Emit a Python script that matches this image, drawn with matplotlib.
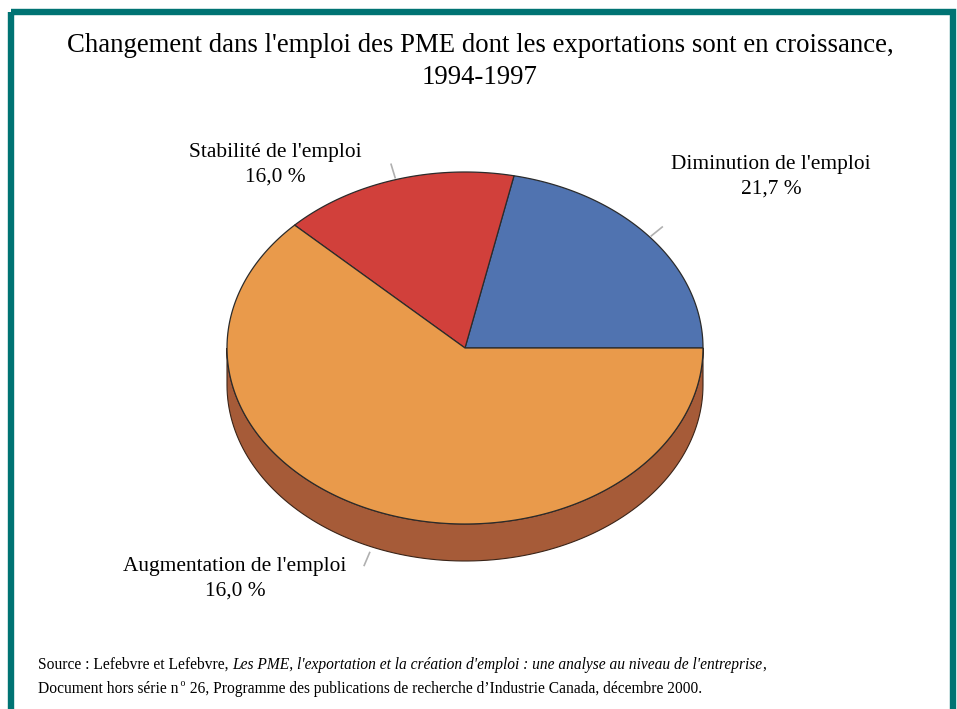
import numpy as np
import matplotlib.pyplot as plt
from matplotlib.patches import Polygon, Rectangle

plt.rcParams["font.family"] = ["Liberation Serif", "DejaVu Serif"]

# données
labels = ["Diminution de l'emploi", "Stabilité de l'emploi", "Augmentation de l'emploi"]
values = [21.7, 16.0, 62.3]
label_pct = ["21,7 %", "16,0 %", "16,0 %"]  # texte tel qu'affiché dans l'original

COR_BORDA = "#007373"
cores = ["#5073B0", "#D1403B", "#E99A4B"]
cores_lado = ["#3A5590", "#9E3430", "#A65B38"]

W, H = 957, 709
fig = plt.figure(figsize=(W / 100, H / 100), dpi=100)
ax = fig.add_axes([0, 0, 1, 1])
ax.set_xlim(0, W)
ax.set_ylim(H, 0)
ax.axis("off")
renderer = fig.canvas.get_renderer()

# cadre
ax.add_patch(Rectangle((11, 12), 942, 720, fill=False,
                       edgecolor=COR_BORDA, linewidth=4.6))

ax.text(480, 46, "Changement dans l'emploi des PME dont les exportations sont en croissance,",
        ha="center", va="center", fontsize=19.3)
ax.text(480, 78, "1994-1997", ha="center", va="center", fontsize=19.3)

# géométrie du camembert 3D
cx, cy = 465, 348
rx, ry = 238, 176
prof = 37

fracs = np.array(values) / np.sum(values)
bornes = np.concatenate([[0], np.cumsum(fracs)]) * 360


def pt(a):
    t = np.radians(a)
    return cx + rx * np.cos(t), cy - ry * np.sin(t)


# côtés (partie visible : 180° à 360°)
for i in range(len(values)):
    a0, a1 = max(bornes[i], 180), min(bornes[i + 1], 360)
    if a1 <= a0:
        continue
    ang = np.linspace(a0, a1, 120)
    haut = [pt(a) for a in ang]
    bas = [(x, y + prof) for x, y in haut[::-1]]
    ax.add_patch(Polygon(haut + bas, closed=True, facecolor=cores_lado[i],
                         edgecolor="#3a2418", linewidth=0.8))

# face du dessus
for i in range(len(values)):
    ang = np.linspace(bornes[i], bornes[i + 1], 200)
    pts = [(cx, cy)] + [pt(a) for a in ang]
    ax.add_patch(Polygon(pts, closed=True, facecolor=cores[i],
                         edgecolor="#2b2b2b", linewidth=0.9))

# étiquettes et lignes de rappel
pos_txt = [(771, 164), (275, 152), (235, 566)]
for i in range(len(values)):
    mid = (bornes[i] + bornes[i + 1]) / 2
    if i == 2:
        mid = 247
    x0, y0 = pt(mid)
    if 180 < mid < 360:
        y0 += prof
    t = np.radians(mid)
    ecart = 6 if i == 2 else 2
    x1, y1 = x0 + (ecart + 14) * np.cos(t), y0 - (ecart + 14) * np.sin(t)
    ax.plot([x0 + ecart * np.cos(t), x1], [y0 - ecart * np.sin(t), y1],
            color="#b0b0b0", linewidth=1.2)
    tx, ty = pos_txt[i]
    ax.text(tx, ty, labels[i], ha="center", va="center", fontsize=15.4)
    ax.text(tx, ty + 25, label_pct[i], ha="center", va="center", fontsize=15.4)


# source : morceaux de texte à la suite
def ligne(x, y, morceaux):
    for txt, kw in morceaux:
        t = ax.text(x, y, txt, va="baseline", **kw)
        x = t.get_window_extent(renderer).x1


fs = 11.2
ligne(38, 669, [
    ("Source : Lefebvre et Lefebvre, ", dict(fontsize=fs)),
    ("Les PME, l'exportation et la création d'emploi : une analyse au niveau de l'entreprise",
     dict(fontsize=fs, style="italic")),
    (",", dict(fontsize=fs)),
])
ligne(38, 693, [
    ("Document hors série n", dict(fontsize=fs)),
    (" o", dict(fontsize=7)),
])
ax.texts[-1].set_y(686)
x_suite = ax.texts[-1].get_window_extent(renderer).x1
ligne(x_suite, 693, [
    (" 26, Programme des publications de recherche d’Industrie Canada, décembre 2000.",
     dict(fontsize=fs)),
])

fig.savefig("out.png", dpi=100, facecolor="white")
